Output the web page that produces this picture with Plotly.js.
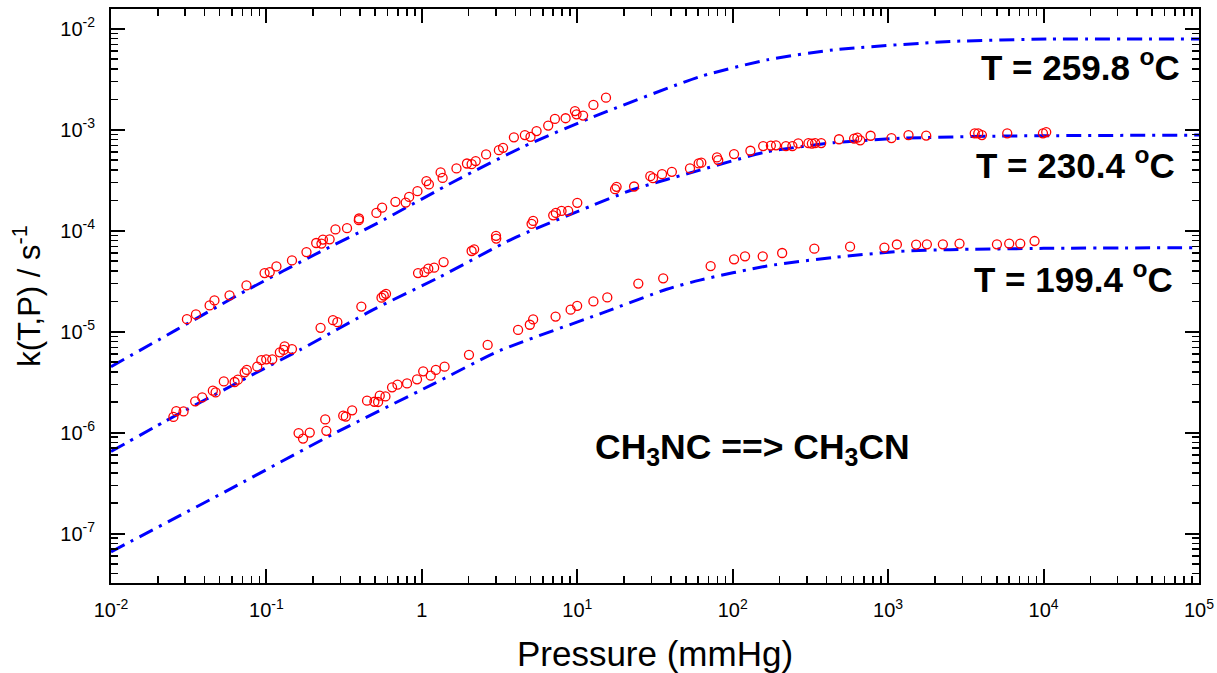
<!DOCTYPE html>
<html>
<head>
<meta charset="utf-8">
<script src="https://cdn.plot.ly/plotly-3.0.1.min.js"></script>
<style>html,body{margin:0;padding:0;background:#fff;}#chart{width:1217px;height:673px;}</style>
</head>
<body>
<div id="chart"></div>
<script>
// ---- Measured data: T = 259.8 C ----
const P_259 = [0.0308,0.0352,0.0431,0.0463,0.0579,0.0744,0.0973,0.105,0.116,0.146,0.181,0.209,0.226,0.231,0.255,0.278,0.330,0.393,0.394,0.510,0.555,0.676,0.787,0.828,0.937,1.07,1.11,1.32,1.36,1.67,1.95,2.09,2.22,2.59,3.13,3.33,3.91,4.60,5.00,5.47,6.50,7.18,8.41,9.66,9.89,10.9,12.7,15.3];
const k_259 = [1.33e-5,1.48e-5,1.82e-5,2.04e-5,2.29e-5,2.87e-5,3.80e-5,3.89e-5,4.43e-5,5.08e-5,6.14e-5,7.55e-5,7.45e-5,8.17e-5,8.22e-5,1.03e-4,1.06e-4,1.27e-4,1.32e-4,1.50e-4,1.69e-4,1.93e-4,1.90e-4,2.16e-4,2.46e-4,3.10e-4,2.87e-4,3.78e-4,3.33e-4,4.14e-4,4.63e-4,4.56e-4,4.89e-4,5.70e-4,6.28e-4,6.62e-4,8.41e-4,8.85e-4,8.51e-4,9.70e-4,1.10e-3,1.28e-3,1.30e-3,1.53e-3,1.42e-3,1.38e-3,1.76e-3,2.08e-3];

// ---- Measured data: T = 230.4 C ----
const P_230 = [0.0252,0.0263,0.0293,0.0348,0.0386,0.0452,0.0471,0.0532,0.0624,0.0655,0.0724,0.0748,0.0873,0.0927,0.0997,0.109,0.122,0.129,0.131,0.146,0.223,0.268,0.286,0.408,0.550,0.569,0.588,0.945,1.04,1.10,1.20,1.38,2.09,2.17,3.01,3.00,5.08,5.20,7.00,7.28,7.92,8.74,10.0,17.5,17.9,23.2,29.5,30.7,35.1,40.6,53.1,60.4,62.8,79.2,80.7,102,130,157,176,190,220,242,264,307,323,339,371,483,604,634,661,771,1050,1352,1757,3606,3800,4012,5837,9910,10400];
const k_230 = [1.43e-6,1.63e-6,1.62e-6,2.04e-6,2.23e-6,2.60e-6,2.50e-6,3.21e-6,3.17e-6,3.34e-6,3.95e-6,4.18e-6,4.50e-6,5.22e-6,5.32e-6,5.32e-6,6.24e-6,6.59e-6,7.16e-6,6.72e-6,1.09e-5,1.30e-5,1.24e-5,1.77e-5,2.17e-5,2.28e-5,2.37e-5,3.80e-5,3.89e-5,4.20e-5,4.30e-5,4.89e-5,6.29e-5,6.53e-5,8.35e-5,8.90e-5,1.17e-4,1.25e-4,1.42e-4,1.50e-4,1.57e-4,1.57e-4,1.89e-4,2.58e-4,2.72e-4,2.74e-4,3.47e-4,3.31e-4,3.63e-4,3.83e-4,4.14e-4,4.64e-4,4.72e-4,5.32e-4,5.00e-4,5.74e-4,6.19e-4,6.89e-4,6.97e-4,7.00e-4,6.89e-4,6.89e-4,7.33e-4,7.38e-4,7.30e-4,7.38e-4,7.38e-4,8.05e-4,8.18e-4,8.37e-4,7.85e-4,8.72e-4,8.27e-4,8.86e-4,8.75e-4,9.21e-4,9.21e-4,8.86e-4,9.21e-4,9.21e-4,9.48e-4];

// ---- Measured data: T = 199.4 C ----
const P_199 = [0.161,0.172,0.190,0.239,0.243,0.312,0.324,0.356,0.444,0.495,0.523,0.536,0.583,0.643,0.697,0.803,0.931,1.02,1.14,1.23,1.40,2.01,2.65,4.16,4.95,5.20,7.25,9.06,9.98,12.7,15.6,24.7,35.7,72.1,102,120,156,208,335,569,946,1138,1514,1775,2250,2878,5012,6012,7080,8750];
const k_199 = [9.89e-7,8.73e-7,1.00e-6,1.35e-6,1.04e-6,1.47e-6,1.44e-6,1.66e-6,2.07e-6,2.02e-6,2.01e-6,2.32e-6,2.28e-6,2.81e-6,2.98e-6,3.07e-6,3.37e-6,4.04e-6,3.66e-6,4.18e-6,4.50e-6,5.89e-6,7.39e-6,1.04e-5,1.17e-5,1.32e-5,1.41e-5,1.65e-5,1.80e-5,1.99e-5,2.18e-5,2.99e-5,3.37e-5,4.46e-5,5.20e-5,5.57e-5,5.57e-5,6.01e-5,6.64e-5,6.95e-5,6.80e-5,7.30e-5,7.29e-5,7.33e-5,7.33e-5,7.45e-5,7.33e-5,7.45e-5,7.45e-5,7.90e-5];

// ---- Fitted fall-off curves ----
const fitP_259 = [0.01,0.0263,0.0743,0.220,0.511,1.67,4.49,12.05,61.7,166,443,2506,11040,1e5];
const fitk_259 = [4.50e-6,1.04e-5,2.56e-5,6.14e-5,1.175e-4,3.16e-4,6.78e-4,1.30e-3,3.36e-3,4.92e-3,6.18e-3,7.48e-3,7.91e-3,7.91e-3];
const fitP_230 = [0.01,0.0226,0.0743,0.164,0.498,1.30,3.86,9.91,22.9,61.5,166,445,1194,5260,1e5];
const fitk_230 = [6.49e-7,1.31e-6,3.48e-6,6.59e-6,1.68e-5,3.47e-5,8.36e-5,1.535e-4,2.56e-4,3.98e-4,6.05e-4,7.43e-4,8.22e-4,8.65e-4,8.85e-4];
const fitP_199 = [0.01,0.0608,0.268,1.18,3.18,14.0,37.6,61.5,166,445,1194,2506,10000,1e5];
const fitk_199 = [6.59e-8,2.85e-7,9.66e-7,3.02e-6,6.49e-6,1.50e-5,2.63e-5,3.24e-5,4.47e-5,5.43e-5,6.24e-5,6.49e-5,6.68e-5,6.79e-5];

// ---- Labels ----
const seriesLabels = ['T = 259.8 <sup>o</sup>C', 'T = 230.4 <sup>o</sup>C', 'T = 199.4 <sup>o</sup>C'];
const reactionLabel = 'CH<sub>3</sub>NC ==> CH<sub>3</sub>CN';
const xTickVals = [1e-2,1e-1,1,1e1,1e2,1e3,1e4,1e5];
const xTickText = ['10<sup>-2</sup>','10<sup>-1</sup>','1','10<sup>1</sup>','10<sup>2</sup>','10<sup>3</sup>','10<sup>4</sup>','10<sup>5</sup>'];
const yTickVals = [1e-7,1e-6,1e-5,1e-4,1e-3,1e-2];
const yTickText = ['10<sup>-7</sup>','10<sup>-6</sup>','10<sup>-5</sup>','10<sup>-4</sup>','10<sup>-3</sup>','10<sup>-2</sup>'];

const FONT = 'Liberation Sans, Arial, Helvetica, sans-serif';
const lineStyle = {color: '#0000ff', width: 3, dash: '15px,7px,3px,7px', shape: 'spline', smoothing: 0.6};
const mk = {symbol: 'circle-open', size: 9, color: '#ff0000', line: {width: 1.3, color: '#ff0000'}};

const traces = [
  {x: fitP_259, y: fitk_259, mode: 'lines', line: lineStyle, hoverinfo: 'skip'},
  {x: fitP_230, y: fitk_230, mode: 'lines', line: lineStyle, hoverinfo: 'skip'},
  {x: fitP_199, y: fitk_199, mode: 'lines', line: lineStyle, hoverinfo: 'skip'},
  {x: P_259, y: k_259, mode: 'markers', marker: mk},
  {x: P_230, y: k_230, mode: 'markers', marker: mk},
  {x: P_199, y: k_199, mode: 'markers', marker: mk}
];

const minorStyle = {dtick: 'D1', ticks: 'inside', ticklen: 7, tickwidth: 1.5, tickcolor: '#000', showgrid: false};
const axisCommon = {
  type: 'log', showgrid: false, zeroline: false,
  showline: true, linecolor: '#000', linewidth: 2, mirror: 'allticks',
  ticks: 'inside', ticklen: 14, tickwidth: 2, tickcolor: '#000',
  tickmode: 'array',
  tickfont: {family: FONT, size: 20, color: '#000'},
  minor: minorStyle
};

const layout = {
  width: 1217, height: 673,
  margin: {l: 111, r: 18, t: 9, b: 90},
  paper_bgcolor: '#fff', plot_bgcolor: '#fff',
  showlegend: false,
  font: {family: FONT, color: '#000'},
  xaxis: Object.assign({}, axisCommon, {
    range: [-2, 5],
    tickvals: xTickVals, ticktext: xTickText,
    ticklabelstandoff: 8,
    title: {text: 'Pressure (mmHg)', font: {family: FONT, size: 35, color: '#000'}, standoff: 21}
  }),
  yaxis: Object.assign({}, axisCommon, {
    range: [-7.49, -1.804],
    tickvals: yTickVals, ticktext: yTickText,
    ticklabelstandoff: 10,
    title: {text: 'k(T,P) / s<sup>-1</sup>', font: {family: FONT, size: 31, color: '#000'}, standoff: 10}
  }),
  annotations: [
    {xref: 'paper', yref: 'paper', x: 0.984, y: 0.902, xanchor: 'right', yanchor: 'middle', showarrow: false,
     text: seriesLabels[0], font: {family: FONT, size: 35, weight: 'bold', color: '#000'}},
    {xref: 'paper', yref: 'paper', x: 0.980, y: 0.732, xanchor: 'right', yanchor: 'middle', showarrow: false,
     text: seriesLabels[1], font: {family: FONT, size: 35, weight: 'bold', color: '#000'}},
    {xref: 'paper', yref: 'paper', x: 0.978, y: 0.533, xanchor: 'right', yanchor: 'middle', showarrow: false,
     text: seriesLabels[2], font: {family: FONT, size: 35, weight: 'bold', color: '#000'}},
    {xref: 'paper', yref: 'paper', x: 0.590, y: 0.234, xanchor: 'center', yanchor: 'middle', showarrow: false,
     text: reactionLabel, font: {family: FONT, size: 35.5, weight: 'bold', color: '#000'}}
  ]
};

Plotly.newPlot('chart', traces, layout, {displayModeBar: false, staticPlot: true});
</script>
</body>
</html>
